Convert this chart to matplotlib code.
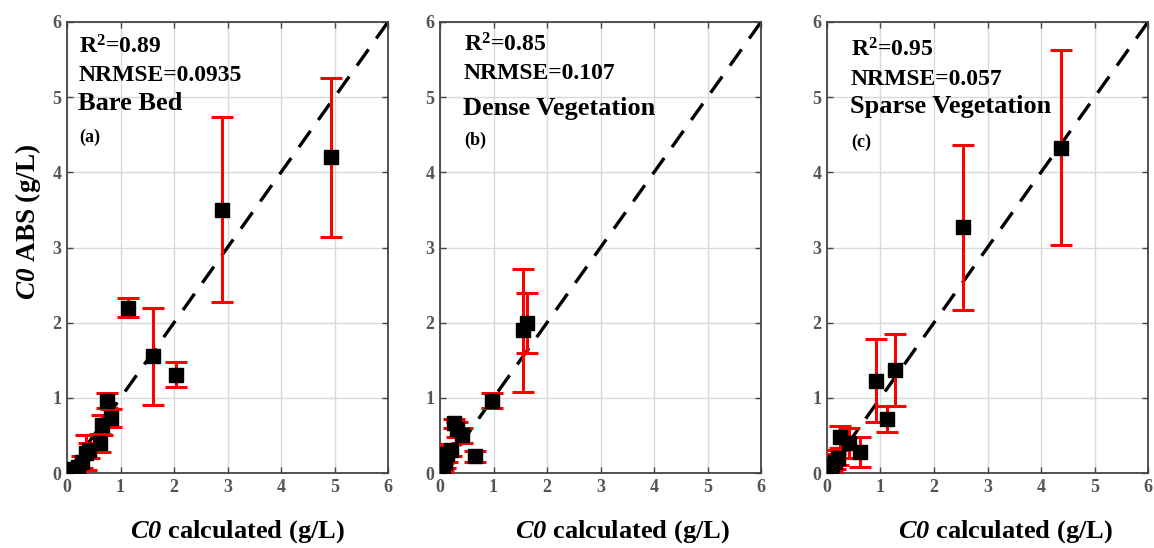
import matplotlib
matplotlib.use("Agg")
import matplotlib.pyplot as plt

# Panel (a): bare bed
bare_calc = [0.05, 0.12, 0.20, 0.28, 0.35, 0.42, 0.62, 0.66, 0.75, 0.83, 1.14, 1.60, 2.03, 2.90, 4.93]
bare_abs = [0.02, 0.05, 0.08, 0.15, 0.27, 0.30, 0.40, 0.64, 0.96, 0.73, 2.20, 1.55, 1.31, 3.50, 4.20]
bare_err = [0.03, 0.04, 0.05, 0.08, 0.23, 0.10, 0.12, 0.13, 0.10, 0.12, 0.13, 0.64, 0.17, 1.23, 1.06]

# Panel (b): dense vegetation
dense_calc = [0.03, 0.06, 0.10, 0.13, 0.20, 0.27, 0.32, 0.42, 0.65, 0.98, 1.55, 1.63]
dense_abs = [0.02, 0.08, 0.15, 0.25, 0.30, 0.66, 0.58, 0.50, 0.22, 0.96, 1.90, 2.00]
dense_err = [0.03, 0.05, 0.08, 0.10, 0.08, 0.06, 0.10, 0.10, 0.07, 0.10, 0.82, 0.40]

# Panel (c): sparse vegetation
sparse_calc = [0.03, 0.07, 0.10, 0.15, 0.20, 0.24, 0.42, 0.62, 0.92, 1.13, 1.28, 2.55, 4.37]
sparse_abs = [0.02, 0.05, 0.10, 0.15, 0.20, 0.48, 0.40, 0.28, 1.23, 0.72, 1.37, 3.27, 4.33]
sparse_err = [0.03, 0.05, 0.08, 0.10, 0.10, 0.15, 0.20, 0.20, 0.55, 0.17, 0.48, 1.10, 1.30]

r2_values = ["0.89", "0.85", "0.95"]
nrmse_values = ["0.0935", "0.107", "0.057"]
panel_names = ["Bare Bed", "Dense Vegetation", "Sparse Vegetation"]
panel_tags = ["(a)", "(b)", "(c)"]
ticks = [0, 1, 2, 3, 4, 5, 6]

plt.rcParams["font.family"] = ["Liberation Serif", "DejaVu Serif"]
plt.rcParams["mathtext.fontset"] = "custom"
plt.rcParams["mathtext.rm"] = "Liberation Serif:bold"
plt.rcParams["mathtext.it"] = "Liberation Serif:italic:bold"
plt.rcParams["mathtext.bf"] = "Liberation Serif:bold"
plt.rcParams["mathtext.sf"] = "Liberation Serif:italic:bold"

fig = plt.figure(figsize=(11.54, 5.48), dpi=100)

lefts = [67, 440, 827]
ax_w, ax_h = 321, 451
bottom_px = 548 - 473

datasets = [
    (bare_calc, bare_abs, bare_err),
    (dense_calc, dense_abs, dense_err),
    (sparse_calc, sparse_abs, sparse_err),
]

# annotation block placement per panel (x start, line centres in data units)
text_x = [0.22, 0.45, 0.45]
text_y = [
    (5.67, 5.29, 4.92, 4.47),
    (5.69, 5.32, 4.85, 4.43),
    (5.63, 5.24, 4.87, 4.40),
]
xlabel_centre = [0.53, 0.567, 0.555]

for i, (xs, ys, es) in enumerate(datasets):
    ax = fig.add_axes([lefts[i] / 1154, bottom_px / 548, ax_w / 1154, ax_h / 548])
    ax.set_xlim(0, 6)
    ax.set_ylim(0, 6)
    ax.set_xticks(ticks)
    ax.set_yticks(ticks)
    ax.grid(True, color="#d9d9d9", linewidth=1.0)
    ax.set_axisbelow(True)
    ax.tick_params(direction="in", top=True, right=True, length=4, width=1,
                   colors="#444444", labelsize=13, pad=4)
    for lbl in ax.get_xticklabels() + ax.get_yticklabels():
        lbl.set_fontweight("bold")
        lbl.set_color("#555555")
    for sp in ax.spines.values():
        sp.set_color("#444444")
        sp.set_linewidth(1.3)

    ax.plot([0, 6], [0, 6], linestyle=(0, (6, 4)), color="black", linewidth=2.4, zorder=2)
    ax.errorbar(xs, ys, yerr=es, fmt="none", ecolor="red", elinewidth=2.2,
                capsize=8, capthick=2.2, zorder=3)
    ax.plot(xs, ys, linestyle="none", marker="s", markersize=10.5,
            color="black", zorder=4)

    tx = text_x[i]
    ty = text_y[i]
    ax.text(tx, ty[0], r"R$^{2}$=" + r2_values[i], fontsize=17,
            fontweight="bold", ha="left", va="center")
    ax.text(tx, ty[1], "NRMSE=" + nrmse_values[i], fontsize=17,
            fontweight="bold", ha="left", va="center")
    ax.text(tx - 0.02, ty[2], panel_names[i], fontsize=19,
            fontweight="bold", ha="left", va="center")
    ax.text(tx, ty[3], panel_tags[i], fontsize=13,
            fontweight="bold", ha="left", va="center")

    ax.set_xlabel(r"$\mathsf{C0}$ calculated (g/L)", fontsize=19,
                  fontweight="bold")
    ax.xaxis.set_label_coords(xlabel_centre[i], -0.1)
    if i == 0:
        ax.set_ylabel(r"$\mathsf{C0}$ ABS (g/L)", fontsize=19.5,
                      fontweight="bold")
        ax.yaxis.set_label_coords(-0.075, 0.557)

fig.savefig("out.png", dpi=100)
